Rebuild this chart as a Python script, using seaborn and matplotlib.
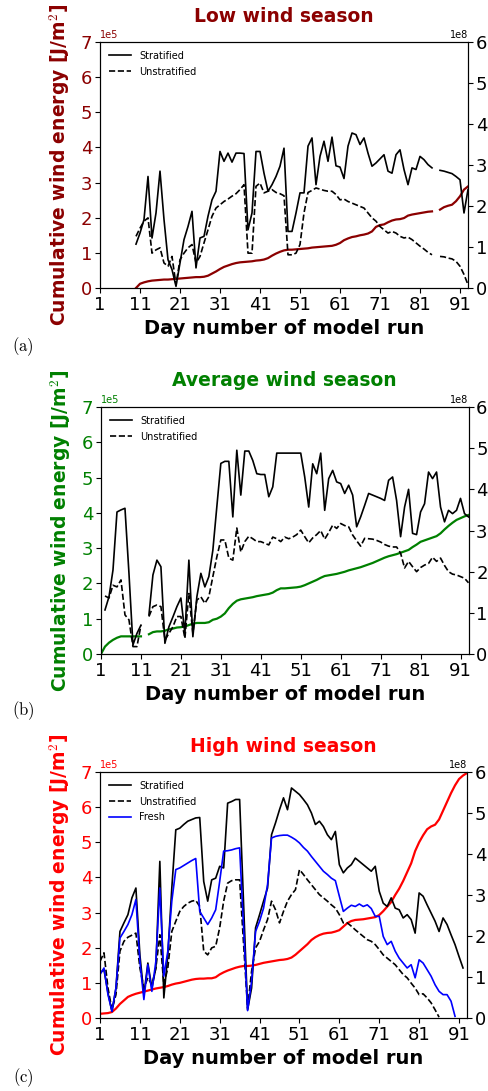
import numpy as np
import pandas as pd
import matplotlib
matplotlib.use("Agg")
import matplotlib.pyplot as plt
import seaborn as sns

nan = np.nan
days = np.arange(1, 94)
day_ticks = [1, 11, 21, 31, 41, 51, 61, 71, 81, 91]
left_ticks = [0, 1, 2, 3, 4, 5, 6, 7]      # x 1e5 J/m^2
right_ticks = [0, 1, 2, 3, 4, 5, 6]        # x 1e8
LEFT_SCALE = 1e5
RIGHT_SCALE = 1e8

titles = ["Low wind season", "Average wind season", "High wind season"]
panel_tags = ["(a)", "(b)", "(c)"]
season_colors = ["#8B0000", "#008000", "#FF0000"]
series_names = ["Stratified", "Unstratified", "Fresh"]

# ---------------- Panel (a): low wind season ----------------
a_cum = [nan]*9 + [
    0.0, 0.12, 0.16, 0.19, 0.21, 0.22, 0.23, 0.24, 0.24, 0.25,
    0.26, 0.27, 0.28, 0.29, 0.3, 0.31, 0.31, 0.32, 0.35, 0.41,
    0.47, 0.54, 0.6, 0.64, 0.68, 0.71, 0.73, 0.74, 0.75, 0.76,
    0.78, 0.79, 0.81, 0.85, 0.92, 0.98, 1.03, 1.07, 1.09, 1.09,
    1.1, 1.11, 1.12, 1.13, 1.15, 1.16, 1.17, 1.18, 1.19, 1.2,
    1.23, 1.28, 1.36, 1.41, 1.45, 1.47, 1.5, 1.52, 1.55, 1.61,
    1.74, 1.79, 1.81, 1.87, 1.92, 1.95, 1.96, 1.99, 2.06, 2.09,
    2.11, 2.13, 2.15, 2.17, 2.18, nan, 2.23, 2.3, 2.34, 2.37,
    2.47, 2.61, 2.8, 2.89]
a_strat = [nan]*9 + [
    1.07, 1.34, 1.67, 2.72, 1.22, 1.83, 2.85, 1.67, 0.69, 0.45,
    0.04, 0.61, 1.18, 1.5, 1.87, 0.49, 1.22, 1.26, 1.75, 2.15,
    2.36, 3.33, 3.09, 3.29, 3.07, 3.29, 3.29, 3.28, 1.42, 1.83,
    3.33, 3.33, 2.8, 2.36, 2.52, 2.72, 2.97, 3.41, 1.38, 1.38,
    1.83, 2.32, 2.32, 3.46, 3.66, 2.52, 3.21, 3.58, 3.09, 3.68,
    2.98, 2.95, 2.67, 3.46, 3.78, 3.74, 3.5, 3.66, 3.29, 2.97,
    3.05, 3.15, 3.25, 2.85, 2.8, 3.25, 3.37, 2.89, 2.52, 2.93,
    2.89, 3.21, 3.13, 3.01, 2.93, nan, 2.87, 2.85, 2.82, 2.79,
    2.72, 2.64, 1.83, 2.4]
a_unstrat = [nan]*9 + [
    1.26, 1.46, 1.63, 1.71, 0.85, 0.93, 0.98, 0.61, 0.53, 0.77,
    0.08, 0.69, 0.85, 0.98, 1.06, 0.61, 0.77, 1.1, 1.42, 1.75,
    1.95, 2.03, 2.11, 2.17, 2.24, 2.3, 2.4, 2.52, 0.85, 0.85,
    2.48, 2.56, 2.32, 2.36, 2.4, 2.33, 2.3, 2.25, 0.81, 0.81,
    0.85, 1.06, 1.83, 2.33, 2.38, 2.44, 2.41, 2.38, 2.36, 2.36,
    2.28, 2.15, 2.17, 2.11, 2.07, 2.03, 1.99, 1.95, 1.83, 1.71,
    1.63, 1.5, 1.42, 1.34, 1.38, 1.34, 1.26, 1.22, 1.24, 1.18,
    1.1, 1.02, 0.95, 0.87, 0.81, nan, 0.77, 0.76, 0.73, 0.71,
    0.65, 0.53, 0.33, 0.08]

# ---------------- Panel (b): average wind season ----------------
b_cum = [
    0.0, 0.21, 0.32, 0.4, 0.46, 0.5, 0.5, 0.5, 0.5, 0.5,
    0.5, nan, 0.56, 0.62, 0.64, 0.64, 0.66, 0.7, 0.72, 0.75,
    0.76, 0.78, 0.82, 0.86, 0.88, 0.88, 0.88, 0.9, 0.97, 1.0,
    1.06, 1.15, 1.3, 1.42, 1.51, 1.55, 1.57, 1.59, 1.61, 1.64,
    1.66, 1.68, 1.7, 1.74, 1.81, 1.86, 1.86, 1.87, 1.88, 1.89,
    1.91, 1.95, 2.0, 2.05, 2.1, 2.16, 2.21, 2.23, 2.25, 2.27,
    2.3, 2.33, 2.37, 2.4, 2.43, 2.46, 2.5, 2.54, 2.58, 2.63,
    2.68, 2.73, 2.77, 2.8, 2.83, 2.87, 2.91, 2.95, 3.03, 3.1,
    3.18, 3.22, 3.26, 3.3, 3.34, 3.42, 3.53, 3.63, 3.72, 3.8,
    3.85, 3.9, 3.94]
b_strat = [
    nan, 1.07, 1.39, 2.04, 3.45, 3.5, 3.54, 1.96, 0.22, 0.5,
    0.7, nan, 0.95, 1.92, 2.28, 2.12, 0.26, 0.66, 0.9, 1.15,
    1.36, 0.5, 2.28, 0.42, 1.39, 1.96, 1.63, 1.88, 2.52, 3.58,
    4.63, 4.68, 4.68, 3.33, 4.95, 3.86, 4.93, 4.93, 4.7, 4.38,
    4.36, 4.36, 3.82, 4.06, 4.88, 4.88, 4.88, 4.88, 4.88, 4.88,
    4.88, 4.3, 3.57, 4.62, 4.38, 4.88, 3.49, 4.26, 4.46, 4.18,
    4.14, 3.9, 4.1, 3.86, 3.09, 3.33, 3.61, 3.9, 3.86, 3.82,
    3.78, 3.73, 4.22, 4.3, 3.73, 2.85, 3.57, 4.0, 2.93, 2.9,
    3.45, 3.65, 4.42, 4.26, 4.42, 3.57, 3.21, 3.49, 3.41, 3.49,
    3.78, 3.41, 3.33]
b_unstrat = [
    nan, 1.41, 1.36, 1.67, 1.63, 1.8, 0.95, 0.83, 0.18, 0.18,
    0.7, nan, 0.91, 1.15, 1.19, 1.15, 0.34, 0.5, 0.66, 0.91,
    0.91, 0.38, 1.47, 0.5, 1.31, 1.39, 1.23, 1.39, 1.88, 2.36,
    2.77, 2.77, 2.33, 2.28, 3.06, 2.48, 2.73, 2.86, 2.8, 2.73,
    2.73, 2.69, 2.65, 2.84, 2.8, 2.73, 2.84, 2.8, 2.84, 2.9,
    3.01, 2.85, 2.7, 2.82, 2.9, 3.0, 2.79, 2.95, 3.13, 3.05,
    3.17, 3.12, 3.09, 2.89, 2.75, 2.62, 2.81, 2.8, 2.79, 2.76,
    2.72, 2.66, 2.62, 2.6, 2.6, 2.45, 2.09, 2.25, 2.12, 2.0,
    2.1, 2.16, 2.2, 2.35, 2.25, 2.33, 2.15, 2.0, 1.94, 1.92,
    1.88, 1.84, 1.73]

# ---------------- Panel (c): high wind season ----------------
c_cum = [
    0.12, 0.13, 0.14, 0.17, 0.27, 0.4, 0.5, 0.6, 0.65, 0.69,
    0.72, 0.75, 0.78, 0.81, 0.84, 0.86, 0.88, 0.91, 0.95, 0.98,
    1.0, 1.03, 1.06, 1.09, 1.11, 1.12, 1.12, 1.13, 1.13, 1.16,
    1.24, 1.3, 1.35, 1.39, 1.43, 1.46, 1.48, 1.48, 1.49, 1.51,
    1.54, 1.57, 1.59, 1.61, 1.63, 1.65, 1.66, 1.68, 1.72, 1.8,
    1.9, 2.0, 2.1, 2.22, 2.3, 2.36, 2.4, 2.42, 2.43, 2.46,
    2.5, 2.6, 2.7, 2.76, 2.79, 2.8, 2.81, 2.83, 2.85, 2.87,
    2.93, 3.04, 3.17, 3.3, 3.5, 3.68, 3.9, 4.15, 4.4, 4.75,
    5.0, 5.2, 5.37, 5.45, 5.5, 5.65, 5.9, 6.15, 6.4, 6.62,
    6.8, 6.9, 6.97]
c_strat = [
    1.1, 1.18, 0.61, 0.16, 0.73, 2.11, 2.32, 2.52, 2.93, 3.17,
    1.54, 0.57, 1.34, 0.73, 1.22, 3.82, 0.49, 1.54, 3.17, 4.59,
    4.63, 4.72, 4.8, 4.84, 4.88, 4.89, 3.33, 2.85, 3.37, 3.41,
    3.7, 3.66, 5.24, 5.28, 5.33, 5.33, 2.77, 0.2, 0.73, 2.2,
    2.52, 2.85, 3.17, 4.47, 4.76, 5.08, 5.37, 5.08, 5.61, 5.53,
    5.45, 5.33, 5.2, 5.0, 4.72, 4.8, 4.67, 4.47, 4.35, 4.55,
    3.74, 3.54, 3.66, 3.74, 3.9, 3.82, 3.74, 3.66, 3.58, 3.7,
    3.09, 2.8, 2.72, 2.93, 2.68, 2.64, 2.44, 2.52, 2.4, 2.07,
    3.05, 2.97, 2.76, 2.56, 2.36, 2.11, 2.44, 2.28, 2.03, 1.79,
    1.5, 1.22, nan]
c_unstrat = [
    1.38, 1.59, 0.73, 0.2, 0.57, 1.63, 1.87, 1.97, 2.02, 2.07,
    1.22, 0.73, 0.98, 0.81, 1.22, 2.03, 0.81, 1.22, 2.11, 2.36,
    2.6, 2.72, 2.8, 2.85, 2.87, 2.72, 1.63, 1.54, 1.71, 1.75,
    2.2, 2.85, 3.29, 3.35, 3.37, 3.37, 1.8, 0.24, 1.14, 1.71,
    1.87, 2.15, 2.4, 2.85, 2.64, 2.32, 2.6, 2.85, 3.01, 3.13,
    3.62, 3.5, 3.37, 3.25, 3.13, 3.01, 2.93, 2.85, 2.76, 2.68,
    2.52, 2.32, 2.32, 2.24, 2.15, 2.07, 1.99, 1.91, 1.87, 1.79,
    1.67, 1.54, 1.46, 1.38, 1.3, 1.18, 1.06, 0.98, 0.85, 0.73,
    0.57, 0.59, 0.49, 0.37, 0.2, 0.02, nan, nan, nan, nan,
    nan, nan, nan]
c_fresh = [
    1.06, 1.22, 0.57, 0.16, 0.73, 1.95, 2.11, 2.28, 2.52, 2.89,
    1.38, 0.45, 1.3, 0.65, 1.38, 3.17, 1.02, 1.63, 2.85, 3.62,
    3.66, 3.72, 3.78, 3.84, 3.89, 2.6, 2.44, 2.28, 2.44, 2.64,
    3.33, 4.07, 4.08, 4.1, 4.13, 4.15, 2.2, 0.18, 0.89, 2.11,
    2.36, 2.68, 3.25, 4.39, 4.43, 4.45, 4.46, 4.46, 4.41, 4.35,
    4.27, 4.16, 4.07, 3.94, 3.82, 3.7, 3.58, 3.5, 3.41, 3.35,
    2.97, 2.6, 2.68, 2.75, 2.72, 2.78, 2.72, 2.76, 2.67, 2.48,
    2.48, 1.99, 1.79, 1.87, 1.63, 1.46, 1.34, 1.22, 1.3, 0.98,
    1.42, 1.34, 1.18, 1.02, 0.81, 0.65, 0.57, 0.57, 0.41, 0.04,
    nan, nan, nan]

panels = [
    (a_cum, [a_strat, a_unstrat]),
    (b_cum, [b_strat, b_unstrat]),
    (c_cum, [c_strat, c_unstrat, c_fresh]),
]
line_styles = ["-", "--", "-"]
line_colors = ["black", "black", "#0000FF"]

plt.rcParams["mathtext.fontset"] = "cm"
plt.rcParams["font.family"] = ["DejaVu Sans"]

fig = plt.figure(figsize=(4.88, 10.91), dpi=100)
W, H = 488.0, 1091.0

# axes boxes in pixels: (left, top, right, bottom)
boxes = [(100, 42, 468, 288), (101, 407, 468.5, 654), (100, 772, 467, 1018)]
title_y = [16, 381, 746]
tag_y = [347, 711, 1078]


def draw_series(ax, values, scale, label=None, **kw):
    s = pd.Series(values, dtype=float)
    ok = s.notna()
    seg = (ok != ok.shift()).cumsum()
    first = True
    for _, idx in s[ok].groupby(seg[ok]).groups.items():
        d = pd.DataFrame({"day": days[list(idx)], "val": s[list(idx)].values * scale})
        sns.lineplot(data=d, x="day", y="val", ax=ax, legend=False,
                     errorbar=None, label=(label if first else None), **kw)
        first = False


for i, (cum, lines) in enumerate(panels):
    l, t, r, b = boxes[i]
    ax = fig.add_axes([l / W, 1 - b / H, (r - l) / W, (b - t) / H])
    ax2 = ax.twinx()
    col = season_colors[i]

    draw_series(ax, cum, LEFT_SCALE, color=col, lw=1.6)
    for j, vals in enumerate(lines):
        draw_series(ax2, vals, RIGHT_SCALE, label=series_names[j],
                    color=line_colors[j], ls=line_styles[j], lw=1.2)

    ax.set_xlim(1, 93)
    ax.set_xticks(day_ticks)
    ax.set_ylim(0, 7 * LEFT_SCALE)
    ax.set_yticks(np.array(left_ticks) * LEFT_SCALE)
    ax2.set_ylim(0, 6 * RIGHT_SCALE)
    ax2.set_yticks(np.array(right_ticks) * RIGHT_SCALE)
    ax.ticklabel_format(axis="y", style="sci", scilimits=(0, 0))
    ax2.ticklabel_format(axis="y", style="sci", scilimits=(0, 0))

    ax.tick_params(axis="x", labelsize=13, pad=2)
    ax.tick_params(axis="y", labelsize=13, labelcolor=col, pad=2)
    ax2.tick_params(axis="y", labelsize=13, pad=2)
    ax.yaxis.get_offset_text().set_fontsize(7)
    ax.yaxis.get_offset_text().set_color(col)
    ax2.yaxis.get_offset_text().set_fontsize(7)

    ax.set_xlabel("Day number of model run", fontsize=14, fontweight="bold")
    ax.xaxis.set_label_coords(0.5, -0.125)
    ax.set_ylabel(r"Cumulative wind energy [J/m$^2$]", fontsize=13.5,
                  fontweight="bold", color=col)
    ax.yaxis.set_label_coords(-0.077, 0.5)
    ax2.set_ylabel("")

    ax2.legend(loc="upper left", frameon=False, fontsize=7,
               handlelength=2.3, labelspacing=0.6)

    fig.text(((l + r) / 2) / W, 1 - title_y[i] / H, titles[i], ha="center",
             va="center", fontsize=13.5, fontweight="bold", color=col)
    fig.text(23 / W, 1 - tag_y[i] / H, r"$\mathrm{" + panel_tags[i] + "}$",
             ha="center", va="center", fontsize=12)

fig.savefig("out.png", dpi=100)
